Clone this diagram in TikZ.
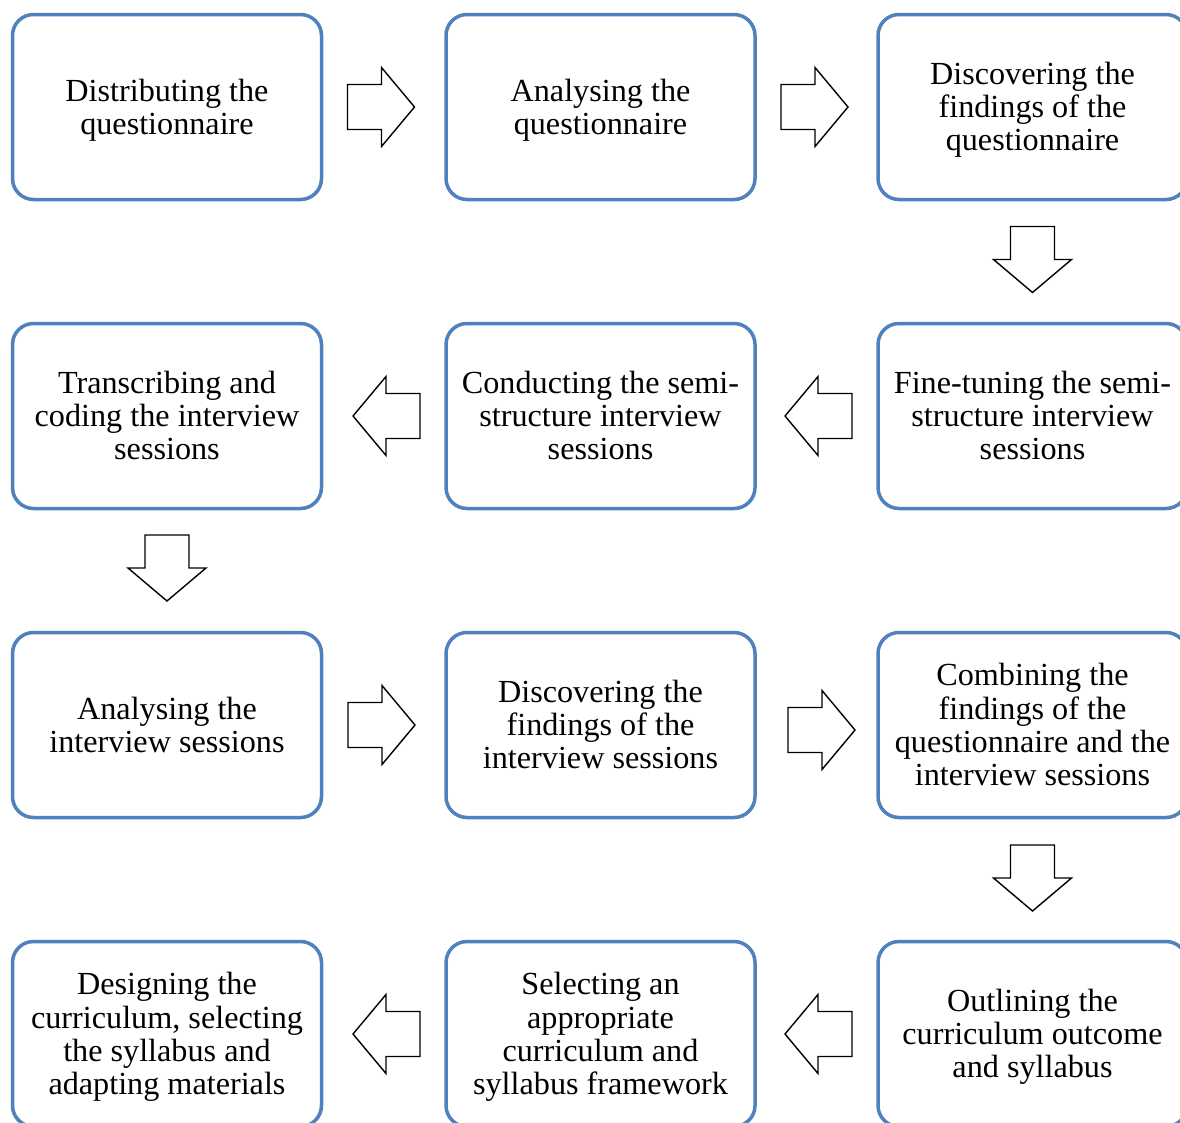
\documentclass[tikz,border=0pt]{standalone}
\usepackage{fontspec}
\setmainfont{Liberation Serif}
\definecolor{boxblue}{HTML}{4F81BD}
% centred block of lines, lowered a little without changing its extent
\newcommand\steplines[1]{\raisebox{-4pt}[\height][\depth]{\begin{tabular}{@{}c@{}}#1\end{tabular}}}
\tikzset{
  x=1pt, y=-1pt,
  stepbox/.style={draw=boxblue, line width=3.5pt, rounded corners=21pt,
    minimum width=309pt, minimum height=185pt, inner sep=0pt,
    font=\fontsize{32.2}{33.3}\selectfont},
  blockarrow/.style={draw=black, line width=1.4pt, fill=white, line join=miter},
  rarr/.pic={\draw[blockarrow] (-34,-22.5) -- (0,-22.5) -- (0,-39.5) -- (33,0)
      -- (0,39.5) -- (0,22.5) -- (-34,22.5) -- cycle;},
  larr/.pic={\draw[blockarrow] (34,-22.5) -- (0,-22.5) -- (0,-39.5) -- (-33,0)
      -- (0,39.5) -- (0,22.5) -- (34,22.5) -- cycle;},
  darr/.pic={\draw[blockarrow] (-22,-33) -- (22,-33) -- (22,0) -- (39,0)
      -- (0,33) -- (-39,0) -- (-22,0) -- cycle;},
}
\begin{document}
\begin{tikzpicture}
\useasboundingbox (0,0) rectangle (1180,1122);
\fill[white] (0,0) rectangle (1180,1122);

% row 1
\node[stepbox] (b11) at (167,107) {\steplines{Distributing the\\questionnaire}};
\node[stepbox] (b12) at (600.5,107) {\steplines{Analysing the\\questionnaire}};
\node[stepbox] (b13) at (1032.5,107) {\steplines{Discovering the\\findings of the\\questionnaire}};
% row 2
\node[stepbox] (b21) at (167,416) {\steplines{Transcribing and\\coding the interview\\sessions}};
\node[stepbox] (b22) at (600.5,416) {\steplines{Conducting the semi-\\structure interview\\sessions}};
\node[stepbox] (b23) at (1032.5,416) {\steplines{Fine-tuning the semi-\\structure interview\\sessions}};
% row 3
\node[stepbox] (b31) at (167,725) {\steplines{Analysing the\\interview sessions}};
\node[stepbox] (b32) at (600.5,725) {\steplines{Discovering the\\findings of the\\interview sessions}};
\node[stepbox] (b33) at (1032.5,725) {\steplines{Combining the\\findings of the\\questionnaire and the\\interview sessions}};
% row 4
\node[stepbox] (b41) at (167,1034) {\steplines{Designing the\\curriculum, selecting\\the syllabus and\\adapting materials}};
\node[stepbox] (b42) at (600.5,1034) {\steplines{Selecting an\\appropriate\\curriculum and\\syllabus framework}};
\node[stepbox] (b43) at (1032.5,1034) {\steplines{Outlining the\\curriculum outcome\\and syllabus}};

% block arrows between the steps
\pic at (381.5,107) {rarr};
\pic at (815,107) {rarr};
\pic at (1032.5,259.5) {darr};
\pic at (818,416) {larr};
\pic at (386,416) {larr};
\pic at (167,568) {darr};
\pic at (382,725) {rarr};
\pic at (822,730) {rarr};
\pic at (1032.5,878) {darr};
\pic at (818,1034) {larr};
\pic at (386,1034) {larr};
\end{tikzpicture}
\end{document}
